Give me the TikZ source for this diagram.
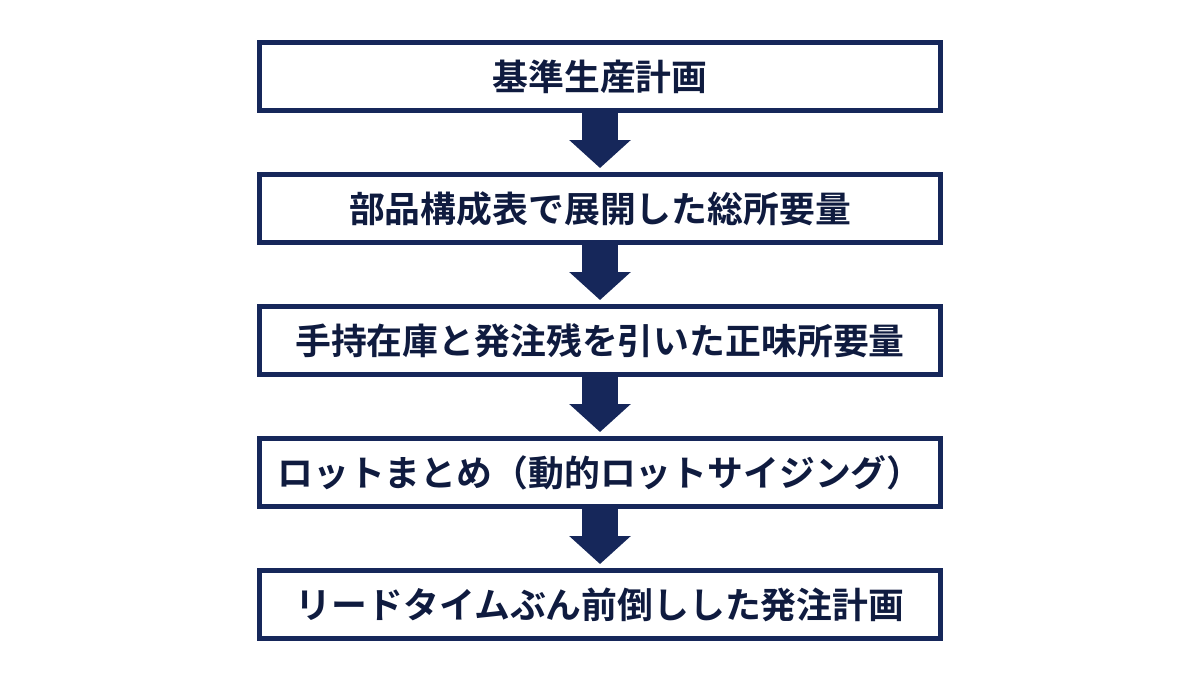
\documentclass[tikz,border=0pt]{standalone}
\usepackage{fontspec}
\setmainfont{Noto Sans CJK JP}[BoldFont={* Bold}]
\usetikzlibrary{positioning,arrows.meta}
\definecolor{navy}{HTML}{16275A}
\tikzset{
  stage/.style={rectangle, draw=navy, line width=0.125cm, minimum width=17.025cm, minimum height=1.7cm, align=center, font=\fontsize{25.5}{30}\selectfont\bfseries, text=navy!70!black},
  flow/.style={navy, line width=0.9cm, -{Triangle[width=1.5cm,length=0.7cm]}, shorten <=-0.02cm, shorten >=0.1cm}
}
\begin{document}
\begin{tikzpicture}[node distance=1.475cm]
\useasboundingbox (0,0) rectangle (30,-16.875);

\node (mps) [stage] at (15,-1.9125) {基準生産計画};
\node (gross) [stage, below=of mps] {部品構成表で展開した総所要量};
\node (net) [stage, below=of gross] {手持在庫と発注残を引いた正味所要量};
\node (lot) [stage, below=of net] {ロットまとめ（動的ロットサイジング）};
\node (order) [stage, below=of lot] {リードタイムぶん前倒しした発注計画};

\draw [flow] (mps) -- (gross);
\draw [flow] (gross) -- (net);
\draw [flow] (net) -- (lot);
\draw [flow] (lot) -- (order);

\end{tikzpicture}
\end{document}
